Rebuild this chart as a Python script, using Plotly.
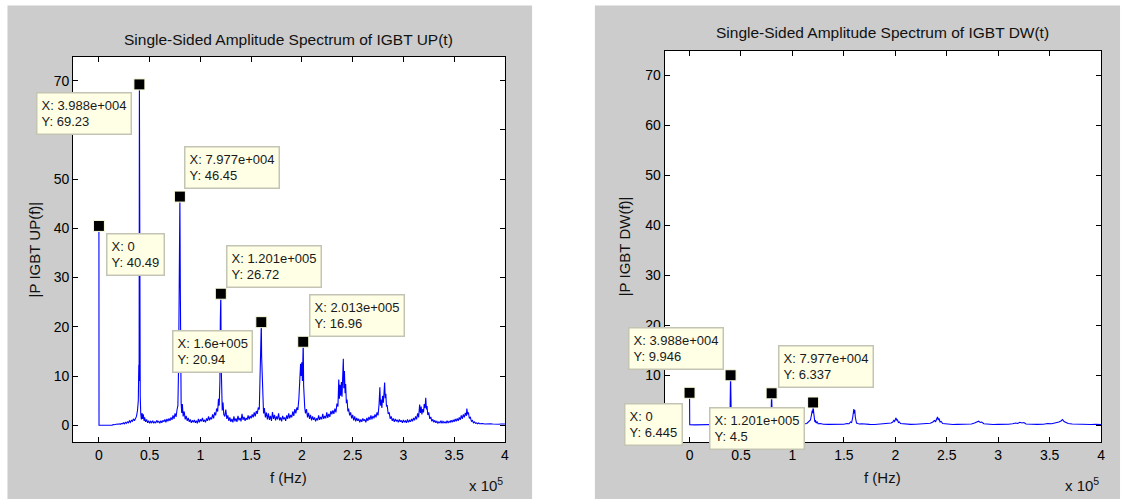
import plotly.graph_objects as go

W, H = 1131, 499

# ---------------- data (frequency in kHz, amplitude) ----------------
up_freq_khz = [
    0, 0.1, 13, 14, 15, 16, 17, 18, 19, 20, 21, 22, 23, 24, 25, 26, 27, 28, 29, 30,
    31, 32, 33, 34, 35, 36, 37, 38, 38.8, 39.3, 39.6, 39.88, 40.1, 40.4, 40.7, 41.2, 41.8, 42.5,
    43, 43.7, 44.5, 45, 46, 47, 48, 49, 50, 51, 52, 53, 54, 55, 56, 57, 58, 59, 60,
    61, 62, 63, 64, 65, 66, 67, 68, 69, 70, 71, 72, 73, 74, 75, 76, 77, 77.8, 78.5,
    79.2, 79.77, 80.2, 80.6, 81, 81.6, 82.2, 83, 84, 85, 86, 87, 88, 89, 90, 91, 92,
    93, 94, 95, 96, 97, 98, 99, 100, 101, 102, 103, 104, 105, 106, 107, 108, 109, 110,
    111, 112, 113, 114, 115, 116, 117, 117.8, 118.5, 119.2, 119.6, 120.1, 120.5, 121,
    121.5, 122.3, 123, 124, 125, 126, 127, 128, 129, 130, 131, 132, 133, 134, 135, 136,
    137, 138, 139, 140, 141, 142, 143, 144, 145, 146, 147, 148, 149, 150, 151, 152, 153,
    154, 155, 156, 157, 158, 158.8, 159.3, 159.7, 160.0, 160.3, 160.7, 161.1, 161.6,
    162.2, 163, 164, 165, 166, 167, 168, 169, 170, 171, 172, 173, 174, 175, 176, 177,
    178, 179, 180, 181, 182, 183, 184, 185, 186, 187, 188, 189, 190, 191, 192, 193, 194,
    195, 196, 197, 198, 198.7, 199.3, 199.9, 200.5, 201.0, 201.3, 201.7, 202.2, 202.8,
    203.5, 204.5, 205.5, 206.5, 207.5, 208.5, 209.5, 210.5, 211.5, 212.5, 213.5, 214.5,
    215.5, 216.5, 217.5, 218.5, 219.5, 220.5, 221.5, 222.5, 223.5, 224.5, 225.5, 226.5,
    227.5, 228.5, 229.5, 230.5, 231.5, 232.5, 233.5, 234.5, 235.5, 236.3, 236.9, 237.5,
    238.2, 238.9, 239.5, 240.2, 240.8, 241.3, 241.9, 242.5, 243.1, 243.8, 244.5, 245.3,
    246, 247, 248, 249, 250, 251, 252, 253, 254, 255, 256, 257, 258, 259, 260, 261, 262,
    263, 264, 265, 266, 267, 268, 269, 270, 271, 272, 273, 274, 275, 276, 276.8, 277.4,
    278, 278.8, 279.5, 280.3, 281.0, 281.5, 282.1, 282.7, 283.3, 284, 285, 286, 287, 288,
    289, 290, 291, 292, 293, 294, 295, 296, 297, 298, 299, 300, 301, 302, 303, 304, 305,
    306, 307, 308, 309, 310, 311, 312, 313, 314, 315, 316, 316.8, 317.5, 318.2, 319,
    319.8, 320.5, 321.3, 322, 322.7, 323.3, 324, 325, 326, 327, 328, 329, 330, 331, 332,
    333, 334, 335, 336, 337, 338, 339, 340, 341, 342, 343, 344, 345, 346, 347, 348, 349,
    350, 351, 352, 353, 354, 355, 356, 357, 358, 359, 360, 361, 362, 362.5, 363.3, 364,
    365, 366, 367, 368, 369, 370, 371, 372, 373, 374, 375, 376, 377, 378, 380, 382, 384,
    386, 388, 390, 392, 394, 396, 398, 400,
]
up_amp = [
    40.49, 0, 0, 0.15, 0.1, 0.2, 0.15, 0.25, 0.2, 0.3, 0.2, 0.35, 0.3, 0.5, 0.3, 0.6, 0.4, 0.7, 0.5, 0.9,
    0.6, 1.0, 0.8, 1.3, 0.9, 1.5, 1.8, 3.0, 5, 12.3, 9, 69.23, 43.5, 12, 6, 2.4, 1.2, 2.5,
    1.3, 2.2, 0.9, 1.6, 0.7, 1.2, 0.5, 0.9, 0.4, 0.8, 0.5, 0.9, 0.4, 0.7, 0.5, 1.0, 0.6, 0.8, 0.4,
    0.9, 0.5, 1.0, 0.7, 1.2, 0.6, 1.3, 0.8, 1.4, 0.9, 1.6, 1.1, 2.0, 1.3, 2.4, 1.7, 3.2, 4, 12,
    30, 46.45, 28, 10, 4.5, 2.5, 4.3, 1.8, 2.8, 1.2, 1.9, 0.9, 1.5, 0.7, 1.2, 0.5, 1.0,
    0.6, 1.1, 0.5, 0.9, 0.4, 1.3, 0.6, 1.2, 0.8, 1.5, 0.7, 1.1, 0.6, 1.4, 0.9, 1.8, 1.0, 1.6,
    1.2, 2.2, 1.4, 2.6, 2.0, 3.4, 2.8, 5.4, 4, 9, 21, 26.72, 12, 7,
    3, 4.6, 2.2, 1.8, 3.2, 1.3, 2.0, 0.9, 1.6, 0.7, 1.3, 0.6, 1.8, 0.8, 1.4, 0.7,
    1.9, 1.0, 1.5, 0.8, 2.3, 1.1, 1.7, 0.9, 1.5, 1.1, 2.0, 1.2, 1.9, 1.4, 2.2, 1.6, 2.6,
    1.8, 2.9, 2.3, 3.6, 3.2, 10, 17.2, 19.4, 20.94, 14, 11, 6, 3.7,
    2.4, 3.5, 1.6, 2.6, 1.2, 2.4, 1.1, 1.9, 0.9, 2.7, 1.3, 2.1, 1.0, 1.8, 1.2, 2.4,
    1.0, 1.6, 0.8, 1.9, 1.2, 1.6, 0.9, 2.0, 1.3, 2.4, 1.4, 2.1, 1.6, 2.8, 1.9, 3.3, 2.4,
    3.6, 3.1, 5.4, 8.9, 12.5, 10, 12.8, 9, 15.5, 16.96, 8, 5.2, 3.5,
    2.4, 3.3, 1.6, 2.5, 1.3, 2.1, 1.0, 1.8, 1.1, 1.6, 0.8, 1.4,
    1.0, 2.0, 1.1, 1.7, 1.2, 2.3, 1.3, 1.9, 1.4, 2.6, 1.5, 2.3,
    1.7, 2.9, 2.2, 3.0, 2.3, 3.4, 2.6, 4.4, 3.8, 9.3, 5.4, 8.2,
    6, 8.8, 5.8, 9, 13.5, 7.5, 11, 6.5, 8.4, 4.5, 5.2, 2.8,
    3.4, 2.0, 2.6, 1.4, 2.1, 1.0, 1.8, 0.8, 1.5, 0.9, 1.3, 0.6, 1.2, 0.7, 1.4, 0.9, 1.2,
    0.6, 1.5, 0.9, 1.7, 1.1, 2.0, 1.2, 1.9, 1.4, 2.2, 1.6, 2.6, 2.0, 4.2, 7.7, 4,
    5.2, 3.5, 6, 4.6, 7, 8.7, 5.5, 6.4, 3.8, 4.1, 2.3, 2.6, 1.3, 1.8,
    0.9, 1.4, 0.7, 1.3, 0.8, 1.1, 0.6, 1.2, 0.7, 1.0, 0.5, 1.1, 0.6, 0.9, 0.5, 1.2, 0.6,
    1.0, 0.7, 1.3, 0.8, 1.5, 1.0, 1.8, 1.2, 2.4, 1.6, 4.2, 2.5, 3.8, 2.2, 3.3,
    2.6, 4.3, 3.5, 5.6, 3.2, 3.9, 2.1, 2.6, 1.3, 1.7, 0.8, 1.2, 0.6, 1.0, 0.5,
    0.8, 0.4, 0.7, 0.5, 0.9, 0.4, 0.8, 0.5, 0.7, 0.4, 0.9, 0.5, 0.8, 0.6, 1.0, 0.6, 1.1,
    0.7, 1.3, 0.8, 1.4, 0.9, 1.6, 1.1, 2.0, 1.3, 2.2, 1.6, 2.5, 1.9, 3.4, 2.2, 2.6,
    1.4, 1.6, 0.8, 1.0, 0.5, 0.7, 0.4, 0.5, 0.3, 0.45, 0.3, 0.35, 0.25, 0.35, 0.25, 0.3, 0.2,
    0.3, 0.25, 0.2, 0.3, 0.2, 0.25, 0.2, 0.25,
]

dw_freq_khz = [
    0, 0.2, 5, 10, 15, 20, 25, 30, 33, 36, 38, 39.3, 39.88, 40.2, 40.6, 41.2, 42, 44, 47,
    50, 55, 60, 65, 70, 74, 77, 78.8, 79.4, 79.77, 80.2, 80.7, 81.5, 83, 86, 90, 95, 100,
    105, 110, 114, 116, 117.5, 118.5, 119.2, 119.8, 120.1, 120.6, 121.2, 121.8, 122.4,
    123, 124, 125, 127, 130, 135, 140, 145, 150, 153, 155, 156.5, 157.5, 158.5, 159.2,
    159.7, 160.1, 160.6, 161.1, 161.6, 162.3, 163.5, 165, 167, 170, 175, 180, 185, 190,
    194, 196, 197.5, 198.5, 199.3, 200, 200.7, 201.3, 202, 203, 204, 205, 207, 210, 215,
    220, 225, 230, 234, 236.5, 238, 239.2, 240.2, 241, 241.8, 242.5, 243.5, 244.5, 246,
    248, 252, 256, 260, 265, 270, 274, 277, 279, 281, 282.5, 284, 286, 290, 295, 300,
    305, 310, 314, 317, 319, 321, 323, 325, 327, 332, 338, 344, 348, 352, 355, 357, 359,
    361, 362.5, 364, 366, 368, 372, 376, 380, 385, 390, 395, 400,
]
dw_amp = [
    6.445, 0.05, 0.02, 0.05, 0.03, 0.08, 0.05, 0.1, 0.07, 0.15, 0.3, 1.5, 9.946, 4.2, 1.2, 0.4, 0.25, 0.15, 0.1,
    0.12, 0.08, 0.1, 0.12, 0.15, 0.2, 0.35, 0.9, 3.2, 6.337, 2.8, 0.8, 0.35, 0.25, 0.15, 0.1, 0.12, 0.1,
    0.15, 0.2, 0.3, 0.6, 1.0, 2.0, 2.9, 2.4, 4.5, 2.6, 1.4, 0.6, 1.0,
    0.4, 0.6, 0.25, 0.3, 0.15, 0.12, 0.15, 0.1, 0.15, 0.3, 0.25, 0.6, 0.5, 1.4, 2.4,
    3.2, 2.3, 3.0, 1.6, 0.8, 0.4, 0.3, 0.2, 0.25, 0.15, 0.12, 0.1, 0.15, 0.2,
    0.25, 0.4, 0.6, 0.9, 0.7, 1.3, 1.45, 0.9, 1.1, 0.5, 0.6, 0.3, 0.25, 0.15, 0.12,
    0.15, 0.2, 0.25, 0.35, 0.6, 0.9, 0.7, 1.2, 1.6, 1.0, 1.3, 0.6, 0.7, 0.3,
    0.25, 0.15, 0.1, 0.12, 0.1, 0.15, 0.2, 0.4, 0.5, 0.75, 0.5, 0.6, 0.25, 0.15, 0.1, 0.12,
    0.1, 0.15, 0.25, 0.4, 0.3, 0.55, 0.4, 0.5, 0.2, 0.1, 0.12, 0.15, 0.3, 0.25, 0.4, 0.35, 0.6,
    0.8, 1.1, 0.7, 0.5, 0.3, 0.2, 0.15, 0.1, 0.12, 0.1, 0.12, 0.1,
]

# data tips (value markers)
up_tip_x = [39880, 0, 79770, 120100, 160000, 201300]
up_tip_y = [69.23, 40.49, 46.45, 26.72, 20.94, 16.96]
up_tip_xtext = ["3.988e+004", "0", "7.977e+004", "1.201e+005", "1.6e+005", "2.013e+005"]
up_tip_ytext = ["69.23", "40.49", "46.45", "26.72", "20.94", "16.96"]

dw_tip_x = [39880, 0, 79770, 120100]
dw_tip_y = [9.946, 6.445, 6.337, 4.5]
dw_tip_xtext = ["3.988e+004", "0", "7.977e+004", "1.201e+005"]
dw_tip_ytext = ["9.946", "6.445", "6.337", "4.5"]

x_tick_vals = [0, 50000, 100000, 150000, 200000, 250000, 300000, 350000, 400000]
x_tick_text = ["0", "0.5", "1", "1.5", "2", "2.5", "3", "3.5", "4"]
y_tick_vals = [0, 10, 20, 30, 40, 50, 60, 70]

titles = ["Single-Sided Amplitude Spectrum of IGBT UP(t)",
          "Single-Sided Amplitude Spectrum of IGBT DW(t)"]
ylabels = ["|P IGBT UP(f)|", "|P IGBT DW(f)|"]
xlabel = "f (Hz)"

# ---------------- layout helpers (pixels -> paper) ----------------
def px(x):
    return x / W

def py(y):
    return 1 - y / H

FONT = "Liberation Sans, Arial, sans-serif"
GRAY = "#cccccc"

fig = go.Figure()

fig.add_trace(go.Scatter(x=[f * 1000 for f in up_freq_khz], y=up_amp, mode="lines",
                         line=dict(color="#0000ff", width=1.1), xaxis="x", yaxis="y",
                         showlegend=False, hoverinfo="skip"))
fig.add_trace(go.Scatter(x=[f * 1000 for f in dw_freq_khz], y=dw_amp, mode="lines",
                         line=dict(color="#0000ff", width=1.1), xaxis="x2", yaxis="y2",
                         showlegend=False, hoverinfo="skip"))
fig.add_trace(go.Scatter(x=up_tip_x, y=up_tip_y, mode="markers", xaxis="x", yaxis="y",
                         marker=dict(symbol="square", size=11, color="black",
                                     line=dict(color="#ffffe0", width=1)),
                         cliponaxis=False, showlegend=False, hoverinfo="skip"))
fig.add_trace(go.Scatter(x=dw_tip_x, y=dw_tip_y, mode="markers", xaxis="x2", yaxis="y2",
                         marker=dict(symbol="square", size=11, color="black",
                                     line=dict(color="#ffffe0", width=1)),
                         cliponaxis=False, showlegend=False, hoverinfo="skip"))

common_axis = dict(showline=True, linecolor="black", linewidth=1, mirror="ticks",
                   ticks="inside", ticklen=5, tickcolor="black", showgrid=False,
                   zeroline=False, tickfont=dict(family=FONT, size=14, color="black"))

fig.update_layout(
    width=W, height=H, margin=dict(l=0, r=0, t=0, b=0),
    paper_bgcolor="white", plot_bgcolor="white",
    xaxis=dict(domain=[px(73.3), px(506.7)], range=[-25500, 400000], anchor="y",
               tickvals=x_tick_vals, ticktext=x_tick_text, **common_axis),
    yaxis=dict(domain=[py(442), py(57)], range=[-3.4, 74.8], anchor="x",
               tickvals=y_tick_vals, **common_axis),
    xaxis2=dict(domain=[px(667), px(1105)], range=[-24200, 400000], anchor="y2",
                tickvals=x_tick_vals, ticktext=x_tick_text, **common_axis),
    yaxis2=dict(domain=[py(442), py(51)], range=[-3.4, 74.8], anchor="x2",
                tickvals=y_tick_vals, **common_axis),
)

# gray figure panels, then white axes backgrounds
fig.add_shape(type="rect", xref="paper", yref="paper", x0=px(7.5), x1=px(534), y0=0, y1=py(5.4),
              fillcolor=GRAY, line=dict(width=0), layer="below")
fig.add_shape(type="rect", xref="paper", yref="paper", x0=px(597), x1=px(1124), y0=0, y1=py(5.4),
              fillcolor=GRAY, line=dict(width=0), layer="below")
fig.add_shape(type="rect", xref="x domain", yref="y domain", x0=0, x1=1, y0=0, y1=1,
              fillcolor="white", line=dict(width=0), layer="below")
fig.add_shape(type="rect", xref="x2 domain", yref="y2 domain", x0=0, x1=1, y0=0, y1=1,
              fillcolor="white", line=dict(width=0), layer="below")

title_font = dict(family=FONT, size=15.5, color="#111111")
label_font = dict(family=FONT, size=15, color="#111111")
ann = []
# titles
ann.append(dict(text=titles[0], x=px(290), y=py(40), xref="paper", yref="paper",
                showarrow=False, xanchor="center", yanchor="middle", font=title_font))
ann.append(dict(text=titles[1], x=px(886), y=py(33), xref="paper", yref="paper",
                showarrow=False, xanchor="center", yanchor="middle", font=title_font))
# y labels
ann.append(dict(text=ylabels[0], x=px(35), y=py(249.5), xref="paper", yref="paper",
                showarrow=False, textangle=-90, xanchor="center", yanchor="middle", font=label_font))
ann.append(dict(text=ylabels[1], x=px(627), y=py(246.5), xref="paper", yref="paper",
                showarrow=False, textangle=-90, xanchor="center", yanchor="middle", font=label_font))
# x labels
for cx in (290, 886):
    ann.append(dict(text=xlabel, x=px(cx), y=py(477), xref="paper", yref="paper",
                    showarrow=False, xanchor="center", yanchor="middle", font=label_font))
# exponent
for rx in (507, 1105):
    ann.append(dict(text="x 10<sup>5</sup>", x=px(rx), y=py(484), xref="paper", yref="paper",
                    showarrow=False, xanchor="right", yanchor="middle", font=label_font))

# data tip boxes: (xanchor, yanchor, xshift, yshift)
up_place = [("right", "top", -7, -8), ("left", "top", 7, -7), ("left", "bottom", 4, 8),
            ("left", "bottom", 5, 6), ("right", "top", -8, -8), ("left", "bottom", 6, 5)]
dw_place = [("right", "bottom", -7, 5), ("right", "top", -7, -10), ("left", "bottom", 6, 5),
            ("right", "top", -8, -4)]

tip_font = dict(family=FONT, size=13, color="#1a1a1a")

def tip(xv, yv, xt, yt, place, xr, yr):
    xa, ya, xs, ys = place
    return dict(text=f"X: {xt}<br>Y: {yt}", x=xv, y=yv, xref=xr, yref=yr,
                showarrow=False, xanchor=xa, yanchor=ya, xshift=xs, yshift=ys,
                align="left", bgcolor="#ffffe6", bordercolor="#c4c4b4", borderwidth=1.5,
                borderpad=4, font=tip_font)

for i in range(len(up_tip_x)):
    ann.append(tip(up_tip_x[i], up_tip_y[i], up_tip_xtext[i], up_tip_ytext[i], up_place[i], "x", "y"))
for i in range(len(dw_tip_x)):
    ann.append(tip(dw_tip_x[i], dw_tip_y[i], dw_tip_xtext[i], dw_tip_ytext[i], dw_place[i], "x2", "y2"))

fig.update_layout(annotations=ann)

fig.write_html("out.html", config={"displayModeBar": False},
               post_script="document.body.style.margin='0';")
